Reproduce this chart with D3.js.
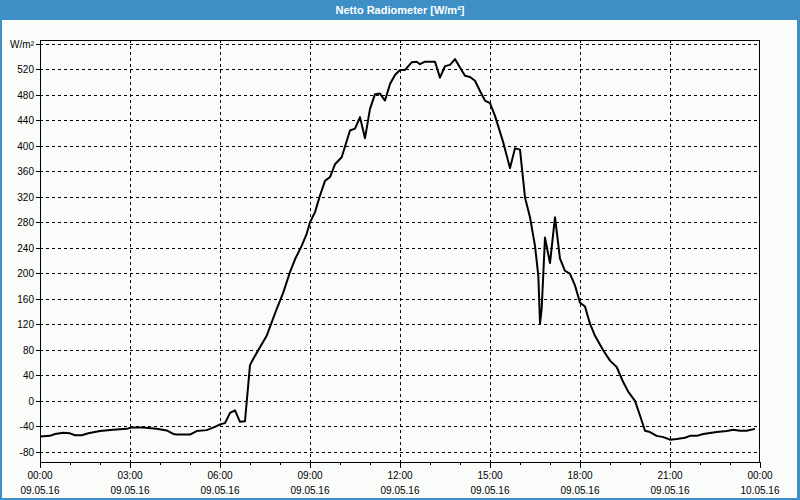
<!DOCTYPE html>
<html><head><meta charset="utf-8">
<script src="https://cdn.jsdelivr.net/npm/d3@7"></script>
<style>
html,body{margin:0;padding:0;background:#fff;}
svg{display:block;}
text{font-family:"Liberation Sans",Arial,sans-serif;}
</style></head>
<body>
<svg id="chart" width="800" height="500"></svg>
<script>
const title = "Netto Radiometer [W/m²]";
const unitLabel = "W/m²";
const hours = [0,0.333,0.5,0.778,1.0,1.167,1.389,1.611,2.0,2.433,2.889,3.056,3.433,3.889,4.222,4.444,4.556,5.0,5.222,5.556,5.833,6.0,6.167,6.333,6.5,6.667,6.833,7.0,7.111,7.333,7.556,7.722,7.889,8.111,8.333,8.5,8.722,8.889,9.0,9.167,9.333,9.5,9.667,9.833,10.056,10.333,10.5,10.667,10.833,11.0,11.167,11.333,11.5,11.667,11.833,12.0,12.167,12.389,12.556,12.667,12.833,13.167,13.333,13.5,13.667,13.833,14.0,14.167,14.333,14.5,14.667,14.833,15.0,15.167,15.444,15.667,15.833,16.0,16.167,16.333,16.5,16.611,16.667,16.722,16.833,17.0,17.167,17.333,17.5,17.667,17.833,18.0,18.167,18.333,18.5,18.778,19.0,19.222,19.444,19.611,19.833,20.0,20.167,20.333,20.556,20.778,21.0,21.222,21.5,21.667,21.889,22.111,22.556,22.889,23.111,23.333,23.556,23.833];
const values = [-56,-55,-52,-50,-51,-54,-54,-51,-47.5,-45.5,-44,-42,-42,-44,-46.5,-52,-53,-53,-47.5,-46,-41,-37,-35,-19,-15,-33,-32,56,66,84,102,123,144,170,202,222,243,262,280,296,322,345,351,371,382,424,427,445,412,458,481,482,471,497,511,519,519,531,532,528,532,532,507,525,527,536,523,510,508,502,486,471,467,447,405,365,396,394,319,288,243,196,121,144,256,216,288,223,204,199,181,154,148,121,102,79,63,53,29,14,0,-23,-47,-49,-55,-57,-61,-60,-58,-55,-55,-52,-49,-47.5,-45.5,-47,-47,-44];
const yTicks = [-80,-40,0,40,80,120,160,200,240,280,320,360,400,440,480,520,560];
const xTickHours = [0,3,6,9,12,15,18,21,24];
const xTimeLabels = ["00:00","03:00","06:00","09:00","12:00","15:00","18:00","21:00","00:00"];
const xDateLabels = ["09.05.16","09.05.16","09.05.16","09.05.16","09.05.16","09.05.16","09.05.16","09.05.16","10.05.16"];
const minorHours = d3.range(0,25,1);

const svg = d3.select("#chart");
const W = 800, H = 500;
const L = 40, R = 760, T = 40, B = 462;

// panel
svg.append("rect").attr("x",0).attr("y",0).attr("width",W).attr("height",H).attr("fill","#3d8fc6");
svg.append("rect").attr("x",2).attr("y",20).attr("width",W-5).attr("height",H-22).attr("fill","#fafcfa");
svg.append("text").attr("x",400).attr("y",14).attr("text-anchor","middle")
  .attr("fill","#fff").attr("font-weight","bold").attr("font-size","11px").text(title);

const x = d3.scaleLinear().domain([0,24]).range([L,R]);
const y = d3.scaleLinear().domain([-96,566]).range([B,T]);

// grid
const g = svg.append("g");
g.selectAll(".hg").data(yTicks).enter().append("line")
  .attr("x1",L).attr("x2",R)
  .attr("y1",d=>Math.round(y(d))+0.5).attr("y2",d=>Math.round(y(d))+0.5)
  .attr("stroke","#000").attr("stroke-width",1).attr("stroke-dasharray","3,3");
g.selectAll(".vg").data(xTickHours.slice(1,-1)).enter().append("line")
  .attr("y1",T).attr("y2",B)
  .attr("x1",d=>Math.round(x(d))+0.5).attr("x2",d=>Math.round(x(d))+0.5)
  .attr("stroke","#000").attr("stroke-width",1).attr("stroke-dasharray","3,3");

// frame
svg.append("rect").attr("x",L+0.5).attr("y",T+0.5).attr("width",R-L-1).attr("height",B-T)
  .attr("fill","none").attr("stroke","#000").attr("stroke-width",1);

// y axis ticks & labels
svg.selectAll(".yt").data(yTicks).enter().append("line")
  .attr("x1",L-4).attr("x2",L)
  .attr("y1",d=>Math.round(y(d))+0.5).attr("y2",d=>Math.round(y(d))+0.5)
  .attr("stroke","#000");
svg.selectAll(".yl").data(yTicks.filter(d=>d<560)).enter().append("text")
  .attr("x",34).attr("y",d=>y(d)+4).attr("text-anchor","end")
  .attr("font-size","10px").attr("fill","#000").text(d=>d);
svg.append("text").attr("x",34).attr("y",y(560)+4).attr("text-anchor","end")
  .attr("font-size","10px").attr("fill","#000").text(unitLabel);

// x axis ticks
svg.selectAll(".xm").data(minorHours).enter().append("line")
  .attr("x1",d=>Math.round(x(d))+0.5).attr("x2",d=>Math.round(x(d))+0.5)
  .attr("y1",B).attr("y2",d=>d%3===0?B+6:B+3)
  .attr("stroke","#000");
svg.selectAll(".xl1").data(xTickHours).enter().append("text")
  .attr("x",d=>x(d)).attr("y",479).attr("text-anchor","middle")
  .attr("font-size","10px").attr("fill","#000").text((d,i)=>xTimeLabels[i]);
svg.selectAll(".xl2").data(xTickHours).enter().append("text")
  .attr("x",d=>x(d)).attr("y",494).attr("text-anchor","middle")
  .attr("font-size","10px").attr("fill","#000").text((d,i)=>xDateLabels[i]);

// line
const data = hours.map((h,i)=>({h, v: values[i]}));
svg.append("path").datum(data)
  .attr("fill","none").attr("stroke","#000").attr("stroke-width",2)
  .attr("stroke-linejoin","round")
  .attr("d", d3.line().x(d=>x(d.h)).y(d=>y(d.v)));
</script>
</body></html>
